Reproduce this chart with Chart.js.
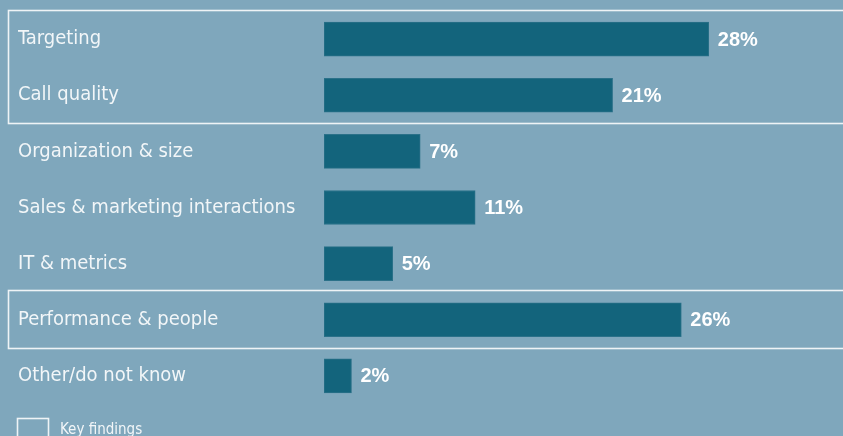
<!DOCTYPE html>
<html>
<head>
<meta charset="utf-8">
<script src="https://cdn.jsdelivr.net/npm/chart.js@4"></script>
<style>
  html, body { margin: 0; padding: 0; background: #7fa7bc; }
  #wrap { width: 843px; height: 436px; }
</style>
</head>
<body>
<div id="wrap"><canvas id="barChart"></canvas></div>
<script>
const categories = [
  "Targeting",
  "Call quality",
  "Organization & size",
  "Sales & marketing interactions",
  "IT & metrics",
  "Performance & people",
  "Other/do not know"
];
const shares = [28, 21, 7, 11, 5, 26, 2];
// groups of rows that get the white "key findings" frame
const keyGroups = [[0, 1], [5, 5]];
const legendText = "Key findings";

const LABEL_FONT = "'DejaVu Sans Condensed', 'Liberation Sans Narrow', sans-serif";

// frames around the key rows, running off the right edge
const keyFrames = {
  id: "keyFrames",
  afterDatasetsDraw(chart) {
    const ctx = chart.ctx;
    const y = chart.scales.y;
    const step = y.getPixelForValue(1) - y.getPixelForValue(0);
    ctx.save();
    ctx.strokeStyle = "#eef3f6";
    ctx.lineWidth = 1.6;
    keyGroups.forEach(g => {
      const top = Math.round(y.getPixelForValue(g[0]) - step / 2 - 1.5);
      const bottom = Math.round(y.getPixelForValue(g[1]) + step / 2);
      ctx.strokeRect(8.5, top + 0.5, 900, bottom - top);
    });

    // legend swatch + text at the bottom
    ctx.strokeRect(17.5, 418.5, 31, 24);
    ctx.fillStyle = "#f2f6f8";
    ctx.font = "15px " + LABEL_FONT;
    ctx.textBaseline = "alphabetic";
    ctx.fillText(legendText, 60, 433.5);
    ctx.restore();
  }
};

// percentage labels at the end of each bar
const valueLabels = {
  id: "valueLabels",
  afterDatasetsDraw(chart) {
    const ctx = chart.ctx;
    const meta = chart.getDatasetMeta(0);
    ctx.save();
    ctx.fillStyle = "#ffffff";
    ctx.font = "bold 20px 'Liberation Sans', Arial, sans-serif";
    ctx.textBaseline = "middle";
    meta.data.forEach((bar, i) => {
      ctx.fillText(shares[i] + "%", bar.x + 9, bar.y + 1);
    });
    ctx.restore();
  }
};

new Chart(document.getElementById("barChart"), {
  type: "bar",
  data: {
    labels: categories,
    datasets: [{
      data: shares,
      backgroundColor: "#13647c",
      borderColor: "#2b7189",
      borderWidth: 1,
      borderSkipped: false,
      barThickness: 34
    }]
  },
  options: {
    indexAxis: "y",
    responsive: true,
    maintainAspectRatio: false,
    animation: false,
    layout: { padding: { left: 18, right: 38, top: 11, bottom: 32 } },
    scales: {
      x: { display: false, min: 0, max: 35 },
      y: {
        grid: { display: false },
        border: { display: false },
        ticks: {
          color: "#f2f6f8",
          font: { family: LABEL_FONT, size: 20, lineHeight: 1 },
          crossAlign: "far",
          padding: 0
        },
        afterFit(scale) { scale.width = 306; }
      }
    },
    plugins: {
      legend: { display: false },
      tooltip: { enabled: false }
    }
  },
  plugins: [keyFrames, valueLabels]
});
</script>
</body>
</html>
